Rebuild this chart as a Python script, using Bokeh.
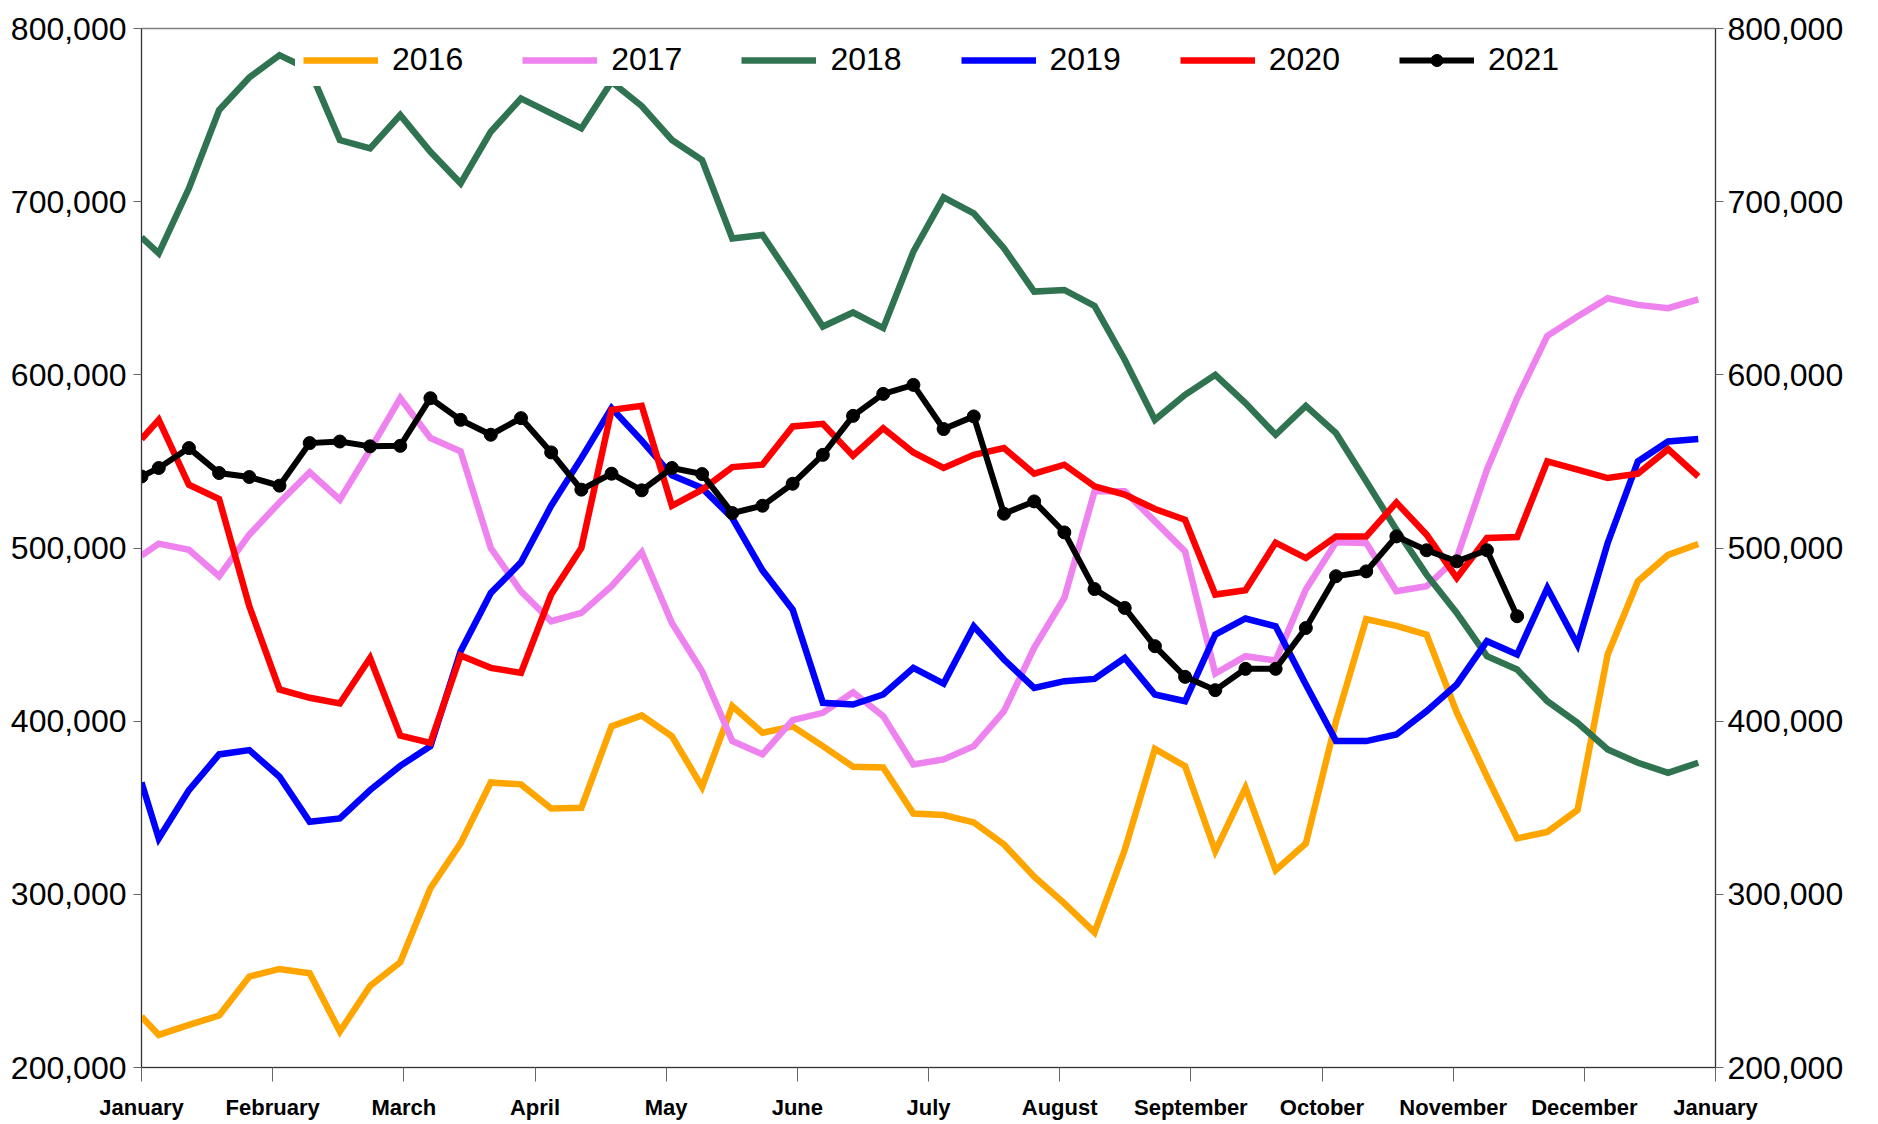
from bokeh.plotting import figure
from bokeh.models import (Range1d, LinearAxis, FixedTicker, NumeralTickFormatter,
                          CustomJSTickFormatter, Legend, LegendItem, ColumnDataSource)
from bokeh.embed import file_html
from bokeh.resources import INLINE

# ---- data (values in thousands) ----
DAYS = [0, 4, 11, 18, 25, 32, 39, 46, 53, 60, 67, 74, 81, 88, 95, 102, 109, 116, 123, 130,
        137, 144, 151, 158, 165, 172, 179, 186, 193, 200, 207, 214, 221, 228, 235, 242, 249,
        256, 263, 270, 277, 284, 291, 298, 305, 312, 319, 326, 333, 340, 347, 354, 361]

MONTHS = ["January", "February", "March", "April", "May", "June", "July", "August",
          "September", "October", "November", "December", "January"]

Y2016 = [229.4, 218.8, 224.6, 230, 252.5, 256.9, 254.4, 220.8, 247.1, 260.8, 303.5, 329.4,
         364.6, 363.5, 349.6, 350, 397, 403.3, 391.3, 362, 408.7, 393.3, 397, 385.6, 373.7,
         373.3, 346.7, 345.8, 341.5, 328.8, 310.2, 294.8, 278, 325.6, 384, 374, 325, 361.5,
         314, 329.4, 400, 459, 455, 450, 405, 368, 332.3, 336, 348.7, 438.5, 480.8, 496, 502.3]
Y2017 = [495.6, 502.5, 499, 483.7, 507.7, 526.3, 543.7, 527.9, 556.7, 586.5, 563.5, 555.8,
         500, 475, 457.7, 462.5, 477.9, 497.5, 456.7, 428.8, 388.5, 380.8, 400.6, 404.8, 416.7,
         402.9, 375, 377.9, 385.6, 405.8, 442.3, 471.2, 532.7, 532.7, 515.4, 498, 427.5, 437.5,
         435, 476, 503.3, 502.9, 475, 477.9, 494.2, 545.2, 586.5, 622.5, 633.7, 644.2, 640.4,
         638.5, 643.6]
Y2018 = [679.4, 670.2, 707.7, 752.9, 771.7, 784.6, 776.2, 735.6, 730.8, 750, 728.8, 710.6,
         740.4, 759.6, 751, 742.3, 769.2, 755.2, 735.6, 724, 678.8, 680.8, 654.8, 627.9, 636,
         627, 671.2, 702.5, 693.3, 673.1, 648.1, 649, 639.8, 608.7, 574, 588.5, 600, 583.7,
         565.4, 582.1, 566.3, 538.5, 510.6, 484.6, 462.5, 437.5, 429.8, 411.5, 399, 383.7, 376,
         370.2, 376]
Y2019 = [364.6, 332.3, 360.2, 380.8, 383.3, 367.9, 341.9, 343.8, 360.2, 374.2, 385.6, 440.4,
         474, 491.7, 524.4, 551.9, 580.8, 562, 542, 534.6, 517.3, 487.1, 464.4, 410.6, 409.6,
         415.4, 430.8, 421.7, 454.8, 435.6, 419.2, 423.1, 424.4, 436.5, 415.4, 411.5, 450,
         459.3, 454.8, 421.2, 388.5, 388.5, 392.3, 405.8, 421.2, 446.2, 438.5, 476.9, 444.2,
         502.9, 550, 561.5, 562.9]
Y2020 = [562.9, 574, 536.5, 528.3, 466.3, 418.3, 413.5, 410.2, 436.5, 391.7, 387.5, 437.9,
         430.8, 427.9, 473.1, 500, 579.8, 582.1, 524.4, 533.7, 546.7, 548.1, 570.2, 571.7,
         553.3, 569.2, 555.2, 546.2, 553.8, 557.7, 542.9, 548.1, 535.6, 530.8, 522.5, 516.3,
         473.1, 475.6, 503.1, 494.2, 506.7, 506.7, 526.3, 507.7, 482.7, 505.8, 506.3, 550,
         545.2, 540.4, 542.9, 557.1, 541.3]
Y2021 = [541.3, 546.2, 557.7, 543.3, 541, 536, 560.6, 561.5, 558.7, 559, 586.5, 574, 565.4,
         575, 555.2, 533.7, 542.9, 533.3, 546.2, 542.7, 520.2, 524.4, 537.1, 553.8, 576.3, 589,
         594.2, 568.7, 576, 519.8, 526.9, 509, 476.3, 465.4, 443.3, 425.6, 417.9, 430.2, 430.2,
         453.8, 483.7, 486.5, 506.7, 498.7, 492.3, 498.7, 460.6]

SERIES = [("2016", Y2016, "#FFA500"), ("2017", Y2017, "#EE82EE"), ("2018", Y2018, "#2F7350"),
          ("2019", Y2019, "#0000FF"), ("2020", Y2020, "#FF0000"), ("2021", Y2021, "#000000")]

FONT = "Liberation Sans"

p = figure(width=1870, height=1122, output_backend="svg", toolbar_location=None,
           x_range=Range1d(0, 365), y_range=Range1d(200000, 800000),
           min_border_left=141, min_border_right=155, min_border_top=28, min_border_bottom=54)
p.grid.visible = False
p.outline_line_color = "#808080"
p.outline_line_width = 1.5
p.background_fill_color = "white"
p.border_fill_color = "white"

items = []
for name, vals, col in SERIES:
    src = ColumnDataSource(dict(x=DAYS[:len(vals)], y=[v * 1000 for v in vals]))
    r = [p.line("x", "y", source=src, line_color=col, line_width=6.5 if name != "2021" else 6,
                line_join="miter")]
    if name == "2021":
        r.append(p.scatter("x", "y", source=src, size=13, fill_color=col, line_color=col))
    items.append(LegendItem(label=name, renderers=r))

# x axis
xa = p.xaxis[0]
xa.ticker = FixedTicker(ticks=[365 / 12 * k for k in range(13)])
xa.formatter = CustomJSTickFormatter(args=dict(m=MONTHS), code="return m[Math.round(tick*12/365)];")
xa.major_label_text_font = FONT
xa.major_label_text_font_style = "bold"
xa.major_label_text_font_size = "22px"
xa.major_label_text_color = "black"
xa.major_tick_out = 14
xa.major_tick_in = 0
xa.minor_tick_out = 0
xa.minor_tick_in = 0
xa.major_tick_line_color = "#666666"
xa.axis_line_color = "#333333"
xa.major_label_standoff = 13

# y axes
ra = LinearAxis()
p.add_layout(ra, "right")
for ax in (p.yaxis[0], ra):
    ax.ticker = FixedTicker(ticks=[200000, 300000, 400000, 500000, 600000, 700000, 800000])
    ax.formatter = NumeralTickFormatter(format="0,0")
    ax.major_label_text_font = FONT
    ax.major_label_text_font_size = "32px"
    ax.major_label_text_color = "black"
    ax.major_tick_out = 8
    ax.major_tick_in = 0
    ax.minor_tick_out = 0
    ax.minor_tick_in = 0
    ax.major_tick_line_color = "#666666"
    ax.axis_line_color = "#333333"
p.yaxis[0].major_label_standoff = 7
ra.major_label_standoff = 4

legend = Legend(items=items, orientation="horizontal", location=(154, 981),
                label_text_font=FONT, label_text_font_size="32px", label_text_color="black",
                glyph_width=75, glyph_height=30, label_standoff=14, spacing=59,
                padding=8, margin=0, background_fill_color="white", background_fill_alpha=1.0,
                border_line_alpha=0)
p.add_layout(legend, "center")

open("out.html", "w").write(file_html(p, INLINE))
